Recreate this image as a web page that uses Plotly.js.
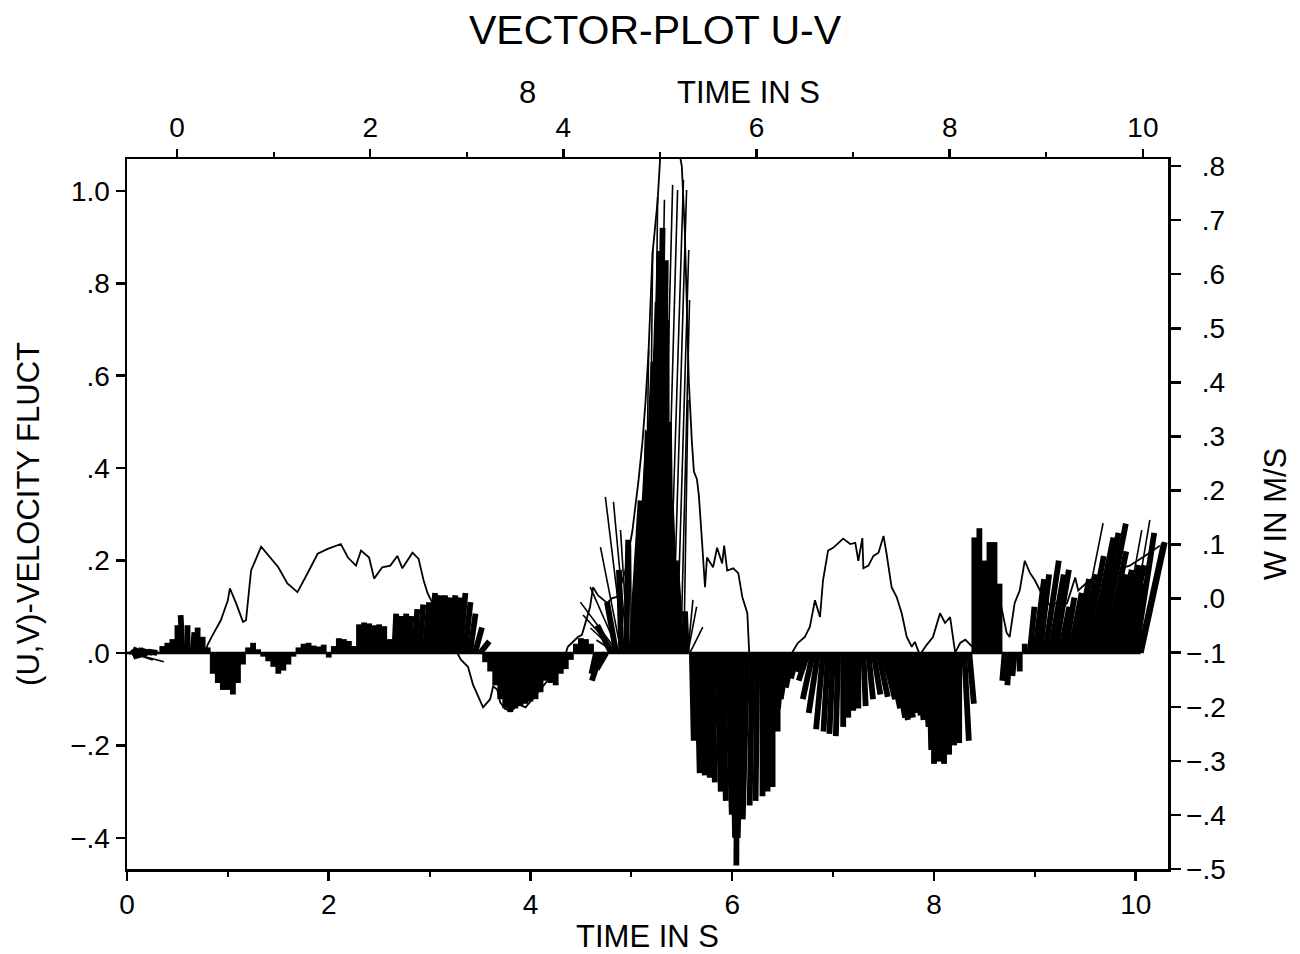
<!DOCTYPE html>
<html><head><meta charset="utf-8">
<script src="https://cdn.plot.ly/plotly-3.0.1.min.js"></script>
<style>html,body{margin:0;padding:0;background:#fff}#chart{width:1300px;height:954px}</style>
</head><body><div id="chart"></div>
<script>
// ---- data ----
const STEP = 0.05; // sampling interval of the vector sticks, s
// V component (m/s), one stick every STEP seconds from t = 0
const stickV = [
 0, 0.004, -0.006, 0.008, -0.008, 0.006, 0.003, 0.015, 0.022, 0.03,
 0.06, 0.082, 0.06, 0.045, 0.055, 0.035, 0.012, -0.045, -0.065, -0.08,
 -0.08, -0.09, -0.065, -0.025, 0.012, 0.022, 0.008, -0.008, -0.018, -0.03,
 -0.045, -0.038, -0.025, -0.008, 0.012, 0.02, 0.022, 0.016, 0.014, 0.018,
 -0.01, 0.015, 0.032, 0.03, 0.026, 0.015, 0.062, 0.066, 0.064, 0.06,
 0.062, 0.058, 0.03, 0.085, 0.08, 0.085, 0.08, 0.095, 0.105, 0.11,
 0.13, 0.125, 0.125, 0.12, 0.125, 0.12, 0.13, 0.11, 0.085, 0.055,
 0.025, -0.02, -0.04, -0.07, -0.10, -0.12, -0.128, -0.12, -0.115, -0.11,
 -0.105, -0.10, -0.085, -0.06, -0.065, -0.07, -0.045, -0.035, -0.015, 0.02,
 0.032, 0.03, 0.02, -0.045, -0.06, -0.035, 0.06, 0.11, 0.18, 0.245,
 0.33, 0.48, 0.63, 0.76, 0.87, 0.92, 0.85, 0.72, 0.50, 0.33,
 0.20, 0.09, -0.19, -0.26, -0.265, -0.27, -0.28, -0.30, -0.32, -0.35,
 -0.40, -0.46, -0.40, -0.36, -0.33, -0.32, -0.31, -0.30, -0.29, -0.17,
 -0.12, -0.10, -0.075, -0.055, -0.04, -0.06, -0.10, -0.13, -0.165, -0.17,
 -0.175, -0.18, -0.16, -0.14, -0.125, -0.12, -0.115, -0.10, -0.09, -0.095,
 -0.10, -0.12, -0.14, -0.145, -0.14, -0.13, -0.135, -0.145, -0.16, -0.21,
 -0.24, -0.235, -0.24, -0.22, -0.20, -0.195, -0.19, -0.11, 0.25, 0.27,
 0.20, 0.24, 0.24, 0.15, -0.06, -0.07, -0.05, -0.04, 0.02, 0.10,
 0.16, 0.17, 0.20, 0.17, 0.18, 0.10, 0.12, 0.13, 0.16, 0.17,
 0.21, 0.25, 0.26, 0.28, 0.22, 0.17, 0.18, 0.19, 0.19, 0.15,
 0.26, 0.24
];
// U component (m/s) of the same sticks
const stickU = [
 0, -0.004, -0.01, -0.02, -0.03, -0.03, -0.02, 0, 0, 0,
 0, -0.004, 0, 0.004, 0, 0, 0, 0, 0, 0,
 0, 0, 0, 0, 0, 0, 0, 0, 0, 0,
 0, 0, 0, 0, 0, 0, 0, 0, 0, 0,
 0, 0, 0, 0, 0, 0, 0, 0, 0, 0,
 0, 0, 0, 0.004, 0.004, 0.004, 0.004, 0.006, 0.008, 0.01,
 0.012, 0.012, 0.012, 0.012, 0.012, 0.012, 0.012, 0.012, 0.012, 0.015,
 0.02, 0, 0, 0, 0, 0, 0, 0, 0, 0,
 0, 0, 0, 0, 0, 0, 0, 0, 0, 0,
 0, 0, 0, -0.01, -0.02, -0.02, -0.03, -0.02, -0.005, 0.004,
 0.02, 0.026, 0.026, 0.024, 0.017, 0.013, 0.009, 0, -0.006, -0.013,
 -0.013, -0.004, 0.004, 0.006, 0.006, 0.006, 0.006, 0.008, 0.008, 0.01,
 0.006, -0.002, -0.01, -0.01, -0.006, -0.004, 0, 0, 0, 0,
 -0.01, -0.015, -0.015, -0.015, -0.015, -0.02, -0.022, -0.02, -0.015, -0.01,
 -0.008, -0.005, 0, 0, 0, 0, 0.005, 0.01, 0.015, 0.02,
 0.025, 0.025, 0.025, 0.02, 0.02, 0.015, 0.015, 0.01, 0.01, 0.005,
 0, 0, 0, 0, 0, 0, 0.01, 0.01, 0, 0,
 0, 0, 0, 0, -0.005, -0.005, -0.005, 0, 0, 0.01,
 0.02, 0.02, 0.03, 0.03, 0.03, 0.02, 0.02, 0.025, 0.03, 0.035,
 0.04, 0.05, 0.05, 0.055, 0.045, 0.035, 0.035, 0.04, 0.04, 0.03,
 0.04, 0.052
];
// isolated long vectors (fans around the gust at 5 s, ends of record)
const burstT = [0.04, 0.04, 0.05, 4.85, 4.86, 4.86, 4.87, 4.88, 4.90, 4.93, 4.96, 4.97, 5.00, 5.03, 5.06, 5.09,
 5.09, 5.13, 5.17, 5.21, 5.25, 5.29, 5.33, 5.37, 5.41, 5.45, 5.49, 5.52, 5.54, 5.56, 5.56, 5.58, 9.42, 9.84, 9.92, 10.02];
const burstU = [0.071, 0.026, 0.045, -0.043, -0.058, -0.074, -0.082, -0.063, -0.045, -0.041, -0.030, -0.017, -0.002, 0.017, 0.022, 0.026,
 0.011, 0.009, 0.009, 0.011, 0.017, 0.026, 0.028, 0.032, 0.030, 0.026, 0.019, 0.009, -0.006, 0.011, 0.019, 0.028, 0.056, 0.048, 0.048, 0.052];
const burstV = [-0.019, 0.011, -0.015, 0.028, 0.054, 0.082, 0.110, 0.143, 0.229, 0.338, 0.327, 0.266, 0.234, 0.273, 0.273, 0.310,
 0.483, 0.656, 0.872, 0.987, 0.981, 1.013, 1.002, 1.024, 1.002, 0.872, 0.764, 0.548, 0.089, 0.115, 0.100, 0.056, 0.281, 0.266, 0.288, 0.238];
// W velocity (m/s, right axis)
const wT = [0.00,0.40,0.78,0.80,0.85,0.93,1.00,1.02,1.08,1.15,1.18,1.23,1.33,1.43,1.50,1.59,1.69,1.79,1.89,1.99,2.09,2.12,2.19,2.27,2.32,2.40,2.45,2.53,2.61,2.68,2.73,2.83,2.89,2.94,2.98,3.11,3.23,3.31,3.38,3.43,3.48,3.53,3.60,3.63,3.67,3.70,3.75,3.81,3.88,3.95,4.02,4.10,4.18,4.23,4.28,4.33,4.37,4.47,4.51,4.59,4.62,4.67,4.76,4.81,4.86,4.94,5.01,5.07,5.11,5.14,5.17,5.19,5.21,5.26,5.30,5.42,5.50,5.53,5.55,5.57,5.60,5.62,5.65,5.67,5.70,5.73,5.75,5.81,5.85,5.90,5.92,5.95,6.01,6.06,6.10,6.15,6.17,6.28,6.43,6.57,6.65,6.72,6.77,6.82,6.87,6.90,6.95,7.00,7.10,7.17,7.22,7.25,7.29,7.30,7.35,7.40,7.45,7.50,7.53,7.58,7.63,7.68,7.73,7.78,7.81,7.86,7.93,7.99,8.06,8.11,8.16,8.21,8.26,8.31,8.38,8.46,8.55,8.65,8.72,8.75,8.80,8.85,8.90,8.95,9.00,9.10,9.15,9.22,9.25,9.32,9.40,9.43,9.54,9.64,9.79,9.94,10.09,10.24];
const wV = [-0.100,-0.100,-0.098,-0.085,-0.067,-0.040,-0.003,0.019,-0.008,-0.043,-0.040,0.052,0.096,0.074,0.058,0.028,0.012,0.047,0.083,0.092,0.098,0.101,0.076,0.061,0.089,0.076,0.037,0.058,0.061,0.079,0.056,0.085,0.074,0.034,0.010,-0.040,-0.085,-0.113,-0.126,-0.159,-0.181,-0.201,-0.186,-0.162,-0.168,-0.192,-0.204,-0.208,-0.195,-0.201,-0.186,-0.168,-0.149,-0.127,-0.135,-0.113,-0.089,-0.071,-0.067,-0.016,0.021,0.006,-0.008,0.001,0.003,0.052,0.125,0.217,0.290,0.363,0.455,0.547,0.638,0.735,0.86,0.88,0.80,0.68,0.55,0.40,0.290,0.235,0.221,0.189,0.107,0.021,0.076,0.058,0.094,0.065,0.098,0.052,0.056,0.047,0.003,-0.027,-0.107,-0.122,-0.116,-0.107,-0.082,-0.071,-0.052,-0.003,-0.034,0.034,0.089,0.094,0.111,0.101,0.103,0.070,0.112,0.056,0.061,0.079,0.085,0.116,0.083,0.021,0.003,-0.027,-0.071,-0.089,-0.080,-0.104,-0.085,-0.071,-0.027,-0.045,-0.034,-0.100,-0.082,-0.076,-0.089,-0.058,-0.030,0.001,-0.063,-0.071,-0.008,0.015,0.070,0.048,0.034,-0.003,-0.012,-0.008,-0.021,-0.008,0.039,0.015,0.034,0.043,0.052,0.061,0.079,0.098];
// ticks
const xTicks = [0, 2, 4, 6, 8, 10];
const xMinor = [1, 3, 5, 7, 9];
const leftTicks = [-0.4, -0.2, 0, 0.2, 0.4, 0.6, 0.8, 1.0];
const leftTickText = ['\u2212.4', '\u2212.2', '.0', '.2', '.4', '.6', '.8', '1.0'];
const rightTicks = [-0.5, -0.4, -0.3, -0.2, -0.1, 0, 0.1, 0.2, 0.3, 0.4, 0.5, 0.6, 0.7, 0.8];
const rightTickText = ['\u2212.5', '\u2212.4', '\u2212.3', '\u2212.2', '\u2212.1', '\u2007.0', '\u2007.1', '\u2007.2', '\u2007.3', '\u2007.4', '\u2007.5', '\u2007.6', '\u2007.7', '\u2007.8'];

// ---- geometry ----
const W = 1300, H = 954;
const M = {l: 127, r: 132, t: 159, b: 85};
const xRange = [0, 10.32];
const x2Range = [-0.518, 10.26];
const yRange = [-0.4675, 1.069];
const y2Range = [-0.5, 0.813];
const plotW = W - M.l - M.r, plotH = H - M.t - M.b;
// seconds per (m/s) so that a vector keeps its true direction on screen
const VEC_SCALE = (plotH / (yRange[1] - yRange[0])) / (plotW / (xRange[1] - xRange[0]));

const stickT = stickV.map((_, i) => Math.round(i * STEP * 100) / 100);

function sticks(t, u, v) {
  const x = [], y = [];
  for (let i = 0; i < t.length; i++) {
    x.push(t[i], t[i] + u[i] * VEC_SCALE, null);
    y.push(0, v[i], null);
  }
  return {x, y};
}
const g = sticks(stickT, stickU, stickV);
const b = sticks(burstT, burstU, burstV);

const FONT = 'Liberation Sans, Arial, sans-serif';
const traces = [
  {type: 'scatter', mode: 'lines', x: g.x, y: g.y, line: {color: '#000', width: 5.8}, hoverinfo: 'skip'},
  {type: 'scatter', mode: 'lines', x: b.x, y: b.y, line: {color: '#000', width: 1.6}, hoverinfo: 'skip'},
  {type: 'scatter', mode: 'lines', x: [stickT[0], stickT[stickT.length - 1]], y: [0, 0], line: {color: '#000', width: 2.5}, hoverinfo: 'skip'},
  {type: 'scatter', mode: 'lines', x: wT, y: wV, xaxis: 'x', yaxis: 'y2', line: {color: '#000', width: 1.8}, hoverinfo: 'skip'},
  {type: 'scatter', mode: 'lines', x: [], y: [], xaxis: 'x2', yaxis: 'y', hoverinfo: 'skip'}
];

const axisCommon = {
  showline: true, linewidth: 2.5, linecolor: '#000', showgrid: false, zeroline: false,
  ticks: 'outside', tickwidth: 2.5, tickcolor: '#000', fixedrange: true,
  tickfont: {family: FONT, size: 28, color: '#000'}
};

const layout = {
  width: W, height: H, margin: Object.assign({pad: 0}, M),
  paper_bgcolor: '#fff', plot_bgcolor: '#fff', showlegend: false,
  font: {family: FONT, color: '#000', size: 28},
  title: {text: 'VECTOR-PLOT U-V', font: {family: FONT, size: 41, color: '#000'},
          x: 655 / W, xref: 'container', xanchor: 'center', y: 1 - 30 / H, yref: 'container', yanchor: 'middle'},
  xaxis: Object.assign({}, axisCommon, {
    range: xRange, tickmode: 'array', tickvals: xTicks, ticktext: xTicks.map(String), ticklen: 9,
    minor: {tickmode: 'array', tickvals: xMinor, ticks: 'outside', ticklen: 5, tickwidth: 2, tickcolor: '#000'},
    title: {text: 'TIME IN S', font: {family: FONT, size: 31, color: '#000'}, standoff: 9}
  }),
  xaxis2: Object.assign({}, axisCommon, {
    overlaying: 'x', side: 'top', anchor: 'y',
    range: x2Range, tickmode: 'array', tickvals: xTicks, ticktext: xTicks.map(String), ticklen: 8,
    minor: {tickmode: 'array', tickvals: xMinor, ticks: 'outside', ticklen: 5, tickwidth: 2, tickcolor: '#000'}
  }),
  yaxis: Object.assign({}, axisCommon, {
    range: yRange, tickmode: 'array', tickvals: leftTicks, ticktext: leftTickText, ticklen: 9,
    title: {text: '(U,V)-VELOCITY FLUCT', font: {family: FONT, size: 31, color: '#000'}, standoff: 22}
  }),
  yaxis2: Object.assign({}, axisCommon, {
    overlaying: 'y', side: 'right', anchor: 'x',
    range: y2Range, tickmode: 'array', tickvals: rightTicks, ticktext: rightTickText, ticklen: 10,
    title: {text: 'W IN M/S', font: {family: FONT, size: 31, color: '#000'}, standoff: 40}
  }),
  annotations: [
    {text: 'TIME IN S', xref: 'paper', yref: 'paper', x: (748 - M.l) / plotW, y: (H - M.b - 93) / plotH,
     xanchor: 'center', yanchor: 'middle', showarrow: false, font: {family: FONT, size: 31, color: '#000'}},
    {text: '8', xref: 'paper', yref: 'paper', x: (527 - M.l) / plotW, y: (H - M.b - 93) / plotH,
     xanchor: 'center', yanchor: 'middle', showarrow: false, font: {family: FONT, size: 31, color: '#000'}}
  ]
};

Plotly.newPlot('chart', traces, layout, {displayModeBar: false, staticPlot: true});
</script>
</body></html>
